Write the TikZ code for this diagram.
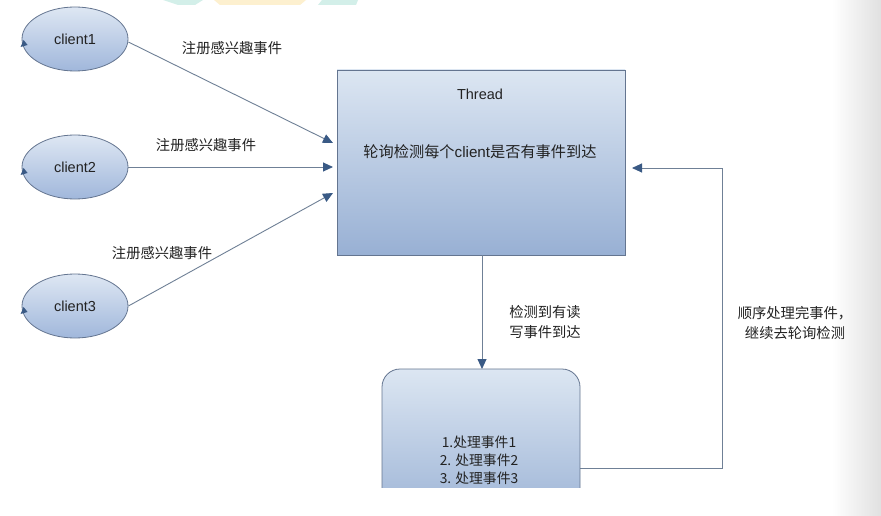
\documentclass[tikz,border=0pt]{standalone}
\usepackage{fontspec}
\setmainfont{Liberation Sans}
\newfontfamily\cjk{Noto Sans CJK SC}
\usetikzlibrary{arrows.meta,shapes.geometric}
\definecolor{edgec}{HTML}{647590}
\definecolor{elltop}{HTML}{DEE7F3}
\definecolor{ellbot}{HTML}{A0B7DB}
\definecolor{boxtop}{HTML}{DCE6F2}
\definecolor{boxbot}{HTML}{98B0D4}
\definecolor{linec}{HTML}{6F8096}
\definecolor{tipc}{HTML}{3A5A85}
\definecolor{teal}{HTML}{D3EFE9}
\definecolor{orng}{HTML}{FDF0CF}
\definecolor{txt}{HTML}{222222}
\tikzset{
  client/.style={ellipse, draw=edgec, line width=0.8pt, top color=elltop, bottom color=ellbot,
    minimum width=106pt, minimum height=64pt, inner sep=0pt, text=txt, font=\fontsize{14.5}{16}\selectfont},
  arr/.style={draw=linec, line width=0.9pt, -{Triangle[length=10pt,width=9pt,color=tipc]}},
  lbl/.style={font=\fontsize{14.3}{20}\selectfont\cjk, text=txt, align=center, inner sep=0pt},
  boxst/.style={draw=edgec, line width=0.8pt, top color=boxtop, bottom color=boxbot, inner sep=0pt}
}
\begin{document}
\begin{tikzpicture}[x=1pt,y=-1pt]
\useasboundingbox (0,0) rectangle (881,516);
\fill[white] (0,0) rectangle (881,516);
% right-side gray strip
\shade[left color=white, right color=black!12, draw=none] (832,0) rectangle (881,516);
% top watermark fragments
\fill[teal] (163,0) -- (203,0) -- (195,5) -- (178,5) -- cycle;
\fill[orng] (214,0) -- (306,0) -- (300,5) -- (220,5) -- cycle;
\fill[teal] (322,0) -- (358,0) -- (356,5) -- (318,5) -- cycle;

% clients
\node[client] (c1) at (75,39) {client1};
\node[client] (c2) at (75,167) {client2};
\node[client] (c3) at (75,306) {client3};
\foreach \c in {c1,c2,c3}{
  \fill[tipc] ([shift={(-1,8)}]\c.west) -- ([shift={(2,1)}]\c.west) -- ([shift={(6,6)}]\c.west) -- cycle;
}

% thread box
\node[boxst, rectangle, minimum width=288pt, minimum height=185pt] (th) at (481,162.5) {};
\node[font=\fontsize{14.5}{16}\selectfont, text=txt, inner sep=0pt] (thname) at (480,94) {Thread};
\node[font=\fontsize{15.2}{16}\selectfont, text=txt, inner sep=0pt] (thtext) at (480,152)
  {{\cjk 轮询检测每个}client{\cjk 是否有事件到达}};

% handler box (cut off at the bottom)
\begin{scope}
\clip (0,0) rectangle (881,487);
\node[boxst, rectangle, rounded corners=18pt, minimum width=198pt, minimum height=160pt] (hb) at (481,449) {};
\end{scope}
\node[lbl, font=\fontsize{13.8}{18}\selectfont\cjk] (hbtext) at (479,460) {1.处理事件1\\2. 处理事件2\\3. 处理事件3};

% anchors on the thread box
\coordinate (in1) at (333,143);
\coordinate (in2) at (333,167);
\coordinate (in3) at (333,193);
\coordinate (back) at (632,168);
\coordinate (hbtop) at (482,369);
\coordinate (thbot) at (482,255);
\coordinate (hbright) at (580,468);
\coordinate (turn1) at (722,468);
\coordinate (turn2) at (722,168);

\draw[arr] (c1.east) ++(0,3) -- (in1);
\draw[arr] (c2.east) -- (in2);
\draw[arr] (c3.east) -- (in3);
\draw[arr] (thbot) -- (hbtop);
\draw[arr] (hbright) -- (turn1) -- (turn2) -- (back);

% labels
\node[lbl] (l1) at (232,48) {注册感兴趣事件};
\node[lbl] (l2) at (206,145) {注册感兴趣事件};
\node[lbl] (l3) at (162,253) {注册感兴趣事件};
\node[lbl] (l4) at (545,322) {检测到有读\\写事件到达};
\node[lbl] (l5) at (795,323) {顺序处理完事件，\\继续去轮询检测};
\end{tikzpicture}
\end{document}
